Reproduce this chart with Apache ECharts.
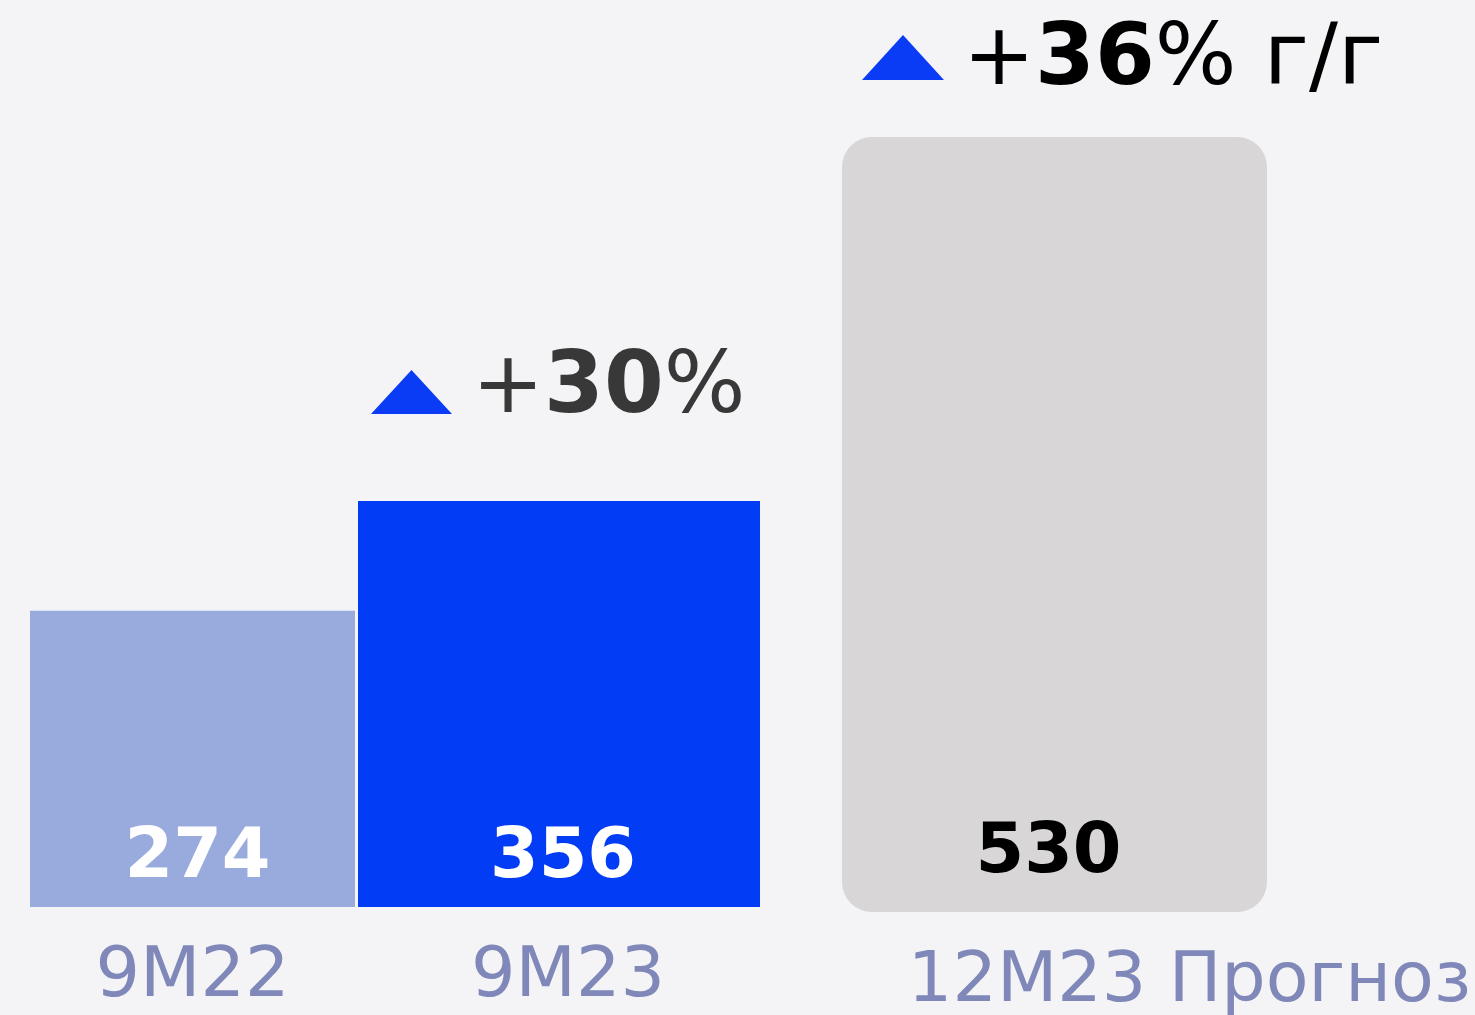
<!DOCTYPE html>
<html>
<head>
<meta charset="utf-8">
<script src="https://cdn.jsdelivr.net/npm/echarts@6/dist/echarts.min.js"></script>
<style>
html,body{margin:0;padding:0;background:#f4f4f6;}
#chart{width:1475px;height:1015px;}
</style>
</head>
<body>
<div id="chart"></div>
<script>
const categories = ['9M22', '9M23', '12M23 Прогноз'];
const values = [274, 356, 530];
const growthPct = [30, 36];
const growthSuffix = ['', ' г/г'];

const FONT = "'DejaVu Sans', Verdana, sans-serif";
const chart = echarts.init(document.getElementById('chart'));

const barColors = ['#99aadd', '#033cf5', '#d8d6d7'];
const labelColors = ['#ffffff', '#ffffff', '#000000'];
const labelOffsets = [[5, 0], [4, 0], [-6, 0]];
const labelDistances = [12, 12, 22];
const axisPads = [[0, 0, 0, 0], [0, 0, 0, 18], [0, 0, 0, 270]];

const option = {
  backgroundColor: '#f4f4f6',
  animation: false,
  grid: [
    { left: 30, width: 325, top: 501, bottom: 108, outerBoundsMode: 'none', containLabel: false },
    { left: 358, width: 402, top: 501, bottom: 108, outerBoundsMode: 'none', containLabel: false },
    { left: 842, width: 425, top: 137, bottom: 103, outerBoundsMode: 'none', containLabel: false }
  ],
  xAxis: categories.map((c, i) => ({
    type: 'category',
    gridIndex: i,
    data: [c],
    axisLine: { show: false },
    axisTick: { show: false },
    axisLabel: {
      margin: 35,
      fontSize: 70,
      lineHeight: 72,
      fontFamily: FONT,
      color: '#7f88b8',
      padding: axisPads[i],
      hideOverlap: false
    }
  })),
  yAxis: [
    { type: 'value', gridIndex: 0, min: 53, max: 356, show: false },
    { type: 'value', gridIndex: 1, min: 53, max: 356, show: false },
    { type: 'value', gridIndex: 2, min: 0, max: 530, show: false }
  ],
  series: values.map((v, i) => ({
    type: 'bar',
    xAxisIndex: i,
    yAxisIndex: i,
    data: [v],
    barWidth: '100%',
    itemStyle: {
      color: barColors[i],
      borderRadius: i === 2 ? 30 : 0
    },
    label: {
      show: true,
      position: 'insideBottom',
      distance: labelDistances[i],
      offset: labelOffsets[i],
      fontSize: 70,
      lineHeight: 72,
      fontWeight: 'bold',
      fontFamily: FONT,
      color: labelColors[i]
    }
  })),
  graphic: [
    {
      type: 'polygon',
      shape: { points: [[371, 414], [452, 414], [411.5, 370]] },
      style: { fill: '#0a3cf5' }
    },
    {
      type: 'text',
      x: 472, y: 390,
      style: {
        text: '{n|+}{b|' + growthPct[0] + '}{n|%' + growthSuffix[0] + '}',
        verticalAlign: 'middle',
        rich: {
          n: { fontSize: 86, fontFamily: FONT, fill: '#383838', color: '#383838' },
          b: { fontSize: 86, fontFamily: FONT, fontWeight: 'bold', fill: '#383838', color: '#383838' }
        }
      }
    },
    {
      type: 'polygon',
      shape: { points: [[862, 80], [944, 80], [903, 35]] },
      style: { fill: '#0a3cf5' }
    },
    {
      type: 'text',
      x: 963, y: 62,
      style: {
        text: '{n|+}{b|' + growthPct[1] + '}{n|%' + growthSuffix[1] + '}',
        verticalAlign: 'middle',
        rich: {
          n: { fontSize: 86, fontFamily: FONT, fill: '#000000', color: '#000000' },
          b: { fontSize: 86, fontFamily: FONT, fontWeight: 'bold', fill: '#000000', color: '#000000' }
        }
      }
    }
  ]
};
chart.setOption(option);
</script>
</body>
</html>
